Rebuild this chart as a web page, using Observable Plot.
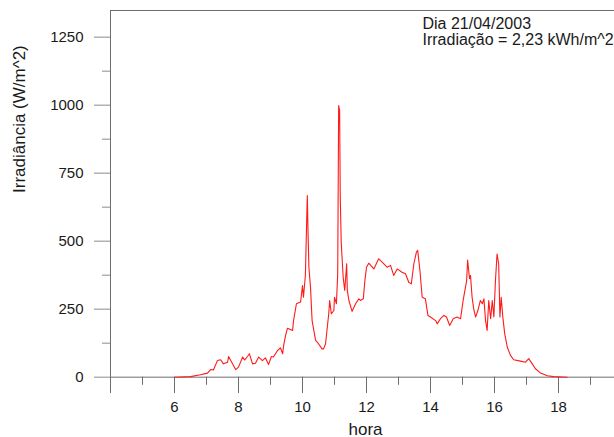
<!DOCTYPE html>
<html>
<head>
<meta charset="utf-8">
<script src="https://cdn.jsdelivr.net/npm/d3@7"></script>
<script src="https://cdn.jsdelivr.net/npm/@observablehq/plot@0.6"></script>
<style>
  html, body { margin: 0; padding: 0; background: #fff; }
</style>
</head>
<body>
<div id="chart"></div>
<script>
const hours = [
  6.0, 6.5, 6.81, 7.03, 7.13, 7.22, 7.34, 7.44, 7.53, 7.66,
  7.69, 7.81, 7.91, 8.0, 8.13, 8.19, 8.28, 8.34, 8.44, 8.53,
  8.63, 8.75, 8.84, 8.94, 9.03, 9.09, 9.22, 9.31, 9.38, 9.41,
  9.47, 9.53, 9.69, 9.72, 9.81, 9.94, 10.0, 10.03, 10.09, 10.15,
  10.17, 10.2, 10.25, 10.3, 10.41, 10.5, 10.61, 10.66, 10.72, 10.82,
  10.85, 10.9, 10.98, 11.0, 11.06, 11.1, 11.13, 11.16, 11.18, 11.21,
  11.27, 11.32, 11.38, 11.4, 11.45, 11.55, 11.66, 11.76, 11.81, 11.9,
  11.95, 12.0, 12.07, 12.23, 12.38, 12.49, 12.65, 12.75, 12.85, 12.96,
  13.11, 13.22, 13.32, 13.4, 13.48, 13.56, 13.6, 13.67, 13.74, 13.84,
  13.92, 14.0, 14.16, 14.21, 14.31, 14.42, 14.5, 14.6, 14.71, 14.83,
  14.94, 15.02, 15.13, 15.16, 15.22, 15.25, 15.3, 15.35, 15.41, 15.48,
  15.56, 15.62, 15.67, 15.72, 15.77, 15.82, 15.88, 15.93, 15.98, 16.03,
  16.08, 16.13, 16.17, 16.21, 16.26, 16.32, 16.4, 16.5, 16.6, 16.81,
  16.97, 17.07, 17.18, 17.28, 17.44, 17.65, 17.85, 18.27
];
const irradiance = [
  0, 2, 9, 15, 28, 27, 61, 64, 49, 55,
  76, 50, 28, 37, 74, 63, 76, 86, 49, 51,
  74, 61, 71, 47, 76, 74, 98, 108, 86, 116,
  153, 180, 172, 208, 270, 276, 337, 294, 374, 668,
  551, 404, 331, 208, 135, 123, 104, 104, 123, 233,
  282, 233, 245, 294, 270, 380, 999, 980, 662, 496,
  368, 319, 417, 319, 282, 242, 270, 288, 282, 288,
  355, 404, 419, 398, 435, 423, 404, 411, 374, 398,
  386, 380, 349, 343, 417, 460, 466, 392, 294, 288,
  227, 221, 208, 196, 215, 227, 221, 190, 215, 221,
  215, 282, 355, 431, 362, 374, 294, 251, 221, 245,
  282, 270, 288, 208, 172, 282, 215, 282, 221, 355,
  453, 417, 221, 294, 221, 159, 110, 80, 64, 59,
  55, 68, 49, 31, 15, 5, 2, 0
];
const yMajorTicks = [0, 250, 500, 750, 1000, 1250];
const yMinorTicks = [125, 375, 625, 875, 1125];
const xMajorTicks = [4, 6, 8, 10, 12, 14, 16, 18];
const xMinorTicks = [5, 7, 9, 11, 13, 15, 17, 19];
const xTickLabels = [6, 8, 10, 12, 14, 16, 18];
const xTitle = "hora";
const yTitle = "Irradiância (W/m^2)";
const annotationLines = ["Dia 21/04/2003", "Irradiação = 2,23 kWh/m^2"];

const xDomain = [4, 19.75];
const yDomain = [-60, 1348];
const majorTickEnd = yDomain[0];
const minorTickEnd = -30;

const data = hours.map((h, i) => ({hora: h, irr: irradiance[i]}));

const axisColor = "#6e6e6e";
const tickColor = "#8a8a8a";
const font = "'Liberation Sans', Arial, Helvetica, sans-serif";

const chart = Plot.plot({
  width: 614,
  height: 437,
  marginLeft: 110,
  marginRight: 0,
  marginTop: 10,
  marginBottom: 44,
  style: {fontFamily: font, fontSize: "15px", color: "#1a1a1a", background: "#fff", overflow: "visible"},
  x: {domain: xDomain, axis: null},
  y: {domain: yDomain, axis: null},
  marks: [
    Plot.ruleX([xDomain[0]], {stroke: axisColor, strokeWidth: 1}),
    Plot.ruleY([yDomain[1]], {stroke: axisColor, strokeWidth: 1}),
    Plot.ruleY([0], {stroke: axisColor, strokeWidth: 1}),
    Plot.ruleX(xMajorTicks, {x: d => d, y1: 0, y2: majorTickEnd, stroke: axisColor}),
    Plot.ruleX(xMinorTicks, {x: d => d, y1: 0, y2: minorTickEnd, stroke: axisColor}),
    Plot.axisX(xTickLabels, {anchor: "bottom", tickSize: 0, tickPadding: 8, fontSize: 15, tickFormat: d => String(d), label: null}),
    Plot.axisY(yMajorTicks, {anchor: "left", tickSize: 16, tickPadding: 11, fontSize: 15, stroke: tickColor, tickFormat: d => String(d), label: null}),
    Plot.axisY(yMinorTicks, {anchor: "left", tickSize: 8, tickFormat: () => "", stroke: tickColor, label: null}),
    Plot.line(data, {x: "hora", y: "irr", stroke: "#ff1a1a", strokeWidth: 1.1}),
    Plot.text([xTitle], {frameAnchor: "bottom", dx: 3, dy: 41, lineAnchor: "bottom", fontSize: 17}),
    Plot.text([yTitle], {frameAnchor: "left", rotate: -90, dx: -91, dy: -9, lineAnchor: "middle", fontSize: 17}),
    Plot.text([annotationLines[0]], {frameAnchor: "top-left", dx: 312, dy: 7, textAnchor: "start", lineAnchor: "top", fontSize: 16}),
    Plot.text([annotationLines[1]], {frameAnchor: "top-left", dx: 312, dy: 23, textAnchor: "start", lineAnchor: "top", fontSize: 16})
  ]
});
document.getElementById("chart").appendChild(chart);
</script>
</body>
</html>
